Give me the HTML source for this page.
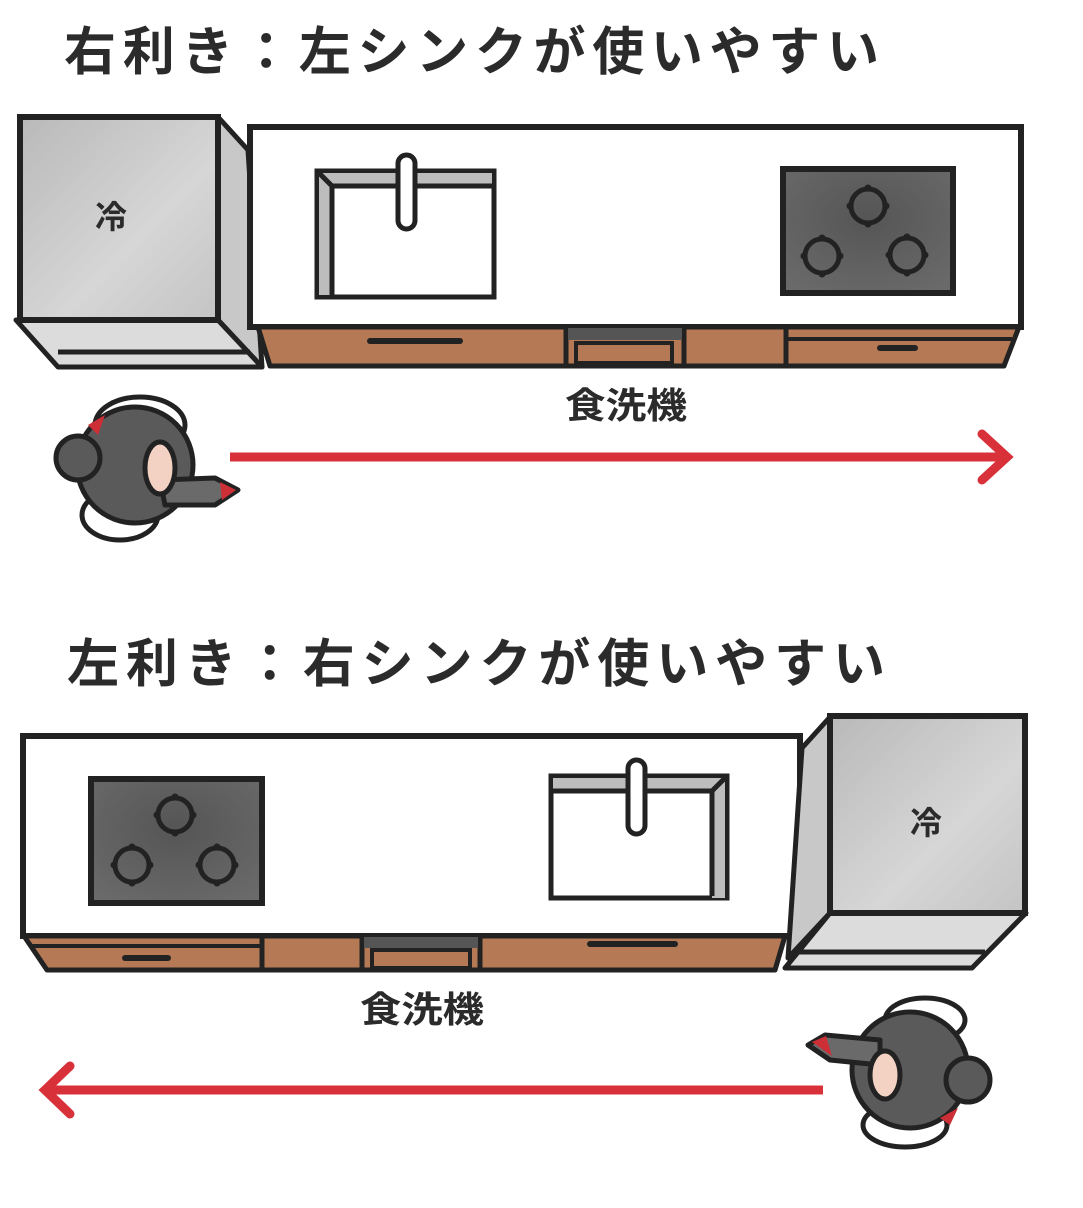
<!DOCTYPE html>
<html><head><meta charset="utf-8"><style>
html,body{margin:0;padding:0;background:#fff;}
svg{display:block;}
text{font-family:"Liberation Sans","Noto Sans CJK JP",sans-serif;fill:#2b2b2b;}
</style></head><body>
<svg width="1083" height="1208" viewBox="0 0 1083 1208" xmlns="http://www.w3.org/2000/svg">
<defs>
<linearGradient id="fr" x1="0" y1="0" x2="1" y2="1"><stop offset="0" stop-color="#b9b9b9"/><stop offset="0.6" stop-color="#d6d6d6"/><stop offset="1" stop-color="#c4c4c4"/></linearGradient>
<radialGradient id="ck" cx="0.5" cy="0.4" r="0.7"><stop offset="0" stop-color="#555"/><stop offset="1" stop-color="#6a6a6a"/></radialGradient>
<g id="burner"><circle r="17" fill="none" stroke="#222" stroke-width="5"/><circle cy="-18" r="3.5" fill="#222"/><circle cy="18" r="3.5" fill="#222"/><circle cx="-18" r="3.5" fill="#222"/><circle cx="18" r="3.5" fill="#222"/></g>
</defs>

<!-- TOP -->
<text x="64" y="70" font-size="52" font-weight="bold" textLength="815" lengthAdjust="spacing">右利き：左シンクが使いやすい</text>

<polygon points="218,117 248,150 262,367 218,320" fill="#c8c8c8" stroke="#222" stroke-width="5" stroke-linejoin="round"/>
<polygon points="16,320 218,320 262,367 58,367" fill="#dcdcdc" stroke="#222" stroke-width="5" stroke-linejoin="round"/>
<line x1="58" y1="352" x2="250" y2="352" stroke="#222" stroke-width="5"/>
<rect x="20" y="117" width="198" height="203" fill="url(#fr)" stroke="#222" stroke-width="6"/>
<text x="95" y="228" font-size="32" font-weight="bold">冷</text>

<rect x="250" y="127" width="771" height="200" fill="#fff" stroke="#222" stroke-width="6"/>
<polygon points="258,327 1019,327 1004,366 270,366" fill="#b57a55" stroke="#222" stroke-width="5" stroke-linejoin="round"/>
<line x1="566" y1="327" x2="566" y2="366" stroke="#222" stroke-width="5"/>
<line x1="684" y1="327" x2="684" y2="366" stroke="#222" stroke-width="5"/>
<line x1="786" y1="327" x2="786" y2="366" stroke="#222" stroke-width="5"/>
<rect x="568" y="328" width="114" height="12" fill="#555"/>
<rect x="576" y="343" width="96" height="20" fill="#b57a55" stroke="#222" stroke-width="4"/>
<line x1="786" y1="339" x2="1012" y2="339" stroke="#222" stroke-width="4"/>
<line x1="370" y1="341" x2="460" y2="341" stroke="#222" stroke-width="6" stroke-linecap="round"/>
<line x1="880" y1="348" x2="915" y2="348" stroke="#222" stroke-width="6" stroke-linecap="round"/>
<rect x="317" y="171" width="177" height="126" fill="#fff" stroke="#222" stroke-width="5"/>
<polygon points="319,173 492,173 492,184 332,184 332,295 319,295" fill="#bdbdbd"/>
<polyline points="319,173 332,186 492,186" fill="none" stroke="#222" stroke-width="5"/>
<line x1="332" y1="186" x2="332" y2="295" stroke="#222" stroke-width="5"/>
<rect x="398" y="155" width="17" height="74" rx="8.5" fill="#fff" stroke="#222" stroke-width="5"/>
<rect x="783" y="169" width="170" height="124" fill="url(#ck)" stroke="#222" stroke-width="6"/>
<use href="#burner" x="868" y="206"/><use href="#burner" x="822" y="256"/><use href="#burner" x="907" y="255"/>

<text x="565" y="418" font-size="36" font-weight="bold" textLength="122" lengthAdjust="spacingAndGlyphs">食洗機</text>
<line x1="230" y1="457" x2="1005" y2="457" stroke="#d8313a" stroke-width="9"/>
<polyline points="982,434 1007,457 982,480" fill="none" stroke="#d8313a" stroke-width="9" stroke-linecap="round"/>

<g stroke="#222" stroke-width="5" stroke-linejoin="round">
<ellipse cx="140" cy="425" rx="45" ry="28" fill="#fff"/>
<ellipse cx="120" cy="515" rx="38" ry="25" fill="#fff"/>
<circle cx="135" cy="465" r="58" fill="#5a5a5a"/>
<circle cx="78" cy="458" r="22" fill="#5a5a5a"/>
<path d="M160,480 L215,478 L238,490 L215,505 L165,505 Z" fill="#6a6a6a"/>
<ellipse cx="160" cy="468" rx="15" ry="26" fill="#f3d2c3"/>
</g>
<polygon points="220,482 236,490 222,500" fill="#cc2f36"/>
<polygon points="88,425 105,415 98,435" fill="#cc2f36"/>

<!-- BOTTOM -->
<text x="67" y="682" font-size="52" font-weight="bold" textLength="818" lengthAdjust="spacing">左利き：右シンクが使いやすい</text>

<rect x="23" y="736" width="777" height="200" fill="#fff" stroke="#222" stroke-width="6"/>
<polygon points="24,936 785,936 775,970 47,970" fill="#b57a55" stroke="#222" stroke-width="5" stroke-linejoin="round"/>
<line x1="262" y1="936" x2="262" y2="970" stroke="#222" stroke-width="5"/>
<line x1="362" y1="936" x2="362" y2="970" stroke="#222" stroke-width="5"/>
<line x1="480" y1="936" x2="480" y2="970" stroke="#222" stroke-width="5"/>
<rect x="364" y="937" width="114" height="11" fill="#555"/>
<rect x="372" y="950" width="98" height="18" fill="#b57a55" stroke="#222" stroke-width="4"/>
<line x1="30" y1="946" x2="262" y2="946" stroke="#222" stroke-width="4"/>
<line x1="125" y1="958" x2="168" y2="958" stroke="#222" stroke-width="6" stroke-linecap="round"/>
<line x1="590" y1="944" x2="675" y2="944" stroke="#222" stroke-width="6" stroke-linecap="round"/>
<rect x="91" y="779" width="171" height="124" fill="url(#ck)" stroke="#222" stroke-width="6"/>
<use href="#burner" x="175" y="815"/><use href="#burner" x="132" y="865"/><use href="#burner" x="217" y="865"/>
<rect x="551" y="776" width="176" height="122" fill="#fff" stroke="#222" stroke-width="5"/>
<polygon points="553,778 725,778 725,898 712,898 712,789 553,789" fill="#bdbdbd"/>
<polyline points="553,791 712,791 725,778" fill="none" stroke="#222" stroke-width="5"/>
<line x1="712" y1="791" x2="712" y2="896" stroke="#222" stroke-width="5"/>
<rect x="628" y="760" width="17" height="74" rx="8.5" fill="#fff" stroke="#222" stroke-width="5"/>

<polygon points="802,748 830,717 830,913 788,958" fill="#c8c8c8" stroke="#222" stroke-width="5" stroke-linejoin="round"/>
<polygon points="830,913 1026,913 972,968 785,968" fill="#dcdcdc" stroke="#222" stroke-width="5" stroke-linejoin="round"/>
<line x1="795" y1="952" x2="985" y2="952" stroke="#222" stroke-width="5"/>
<rect x="830" y="716" width="195" height="197" fill="url(#fr)" stroke="#222" stroke-width="6"/>
<text x="910" y="834" font-size="32" font-weight="bold">冷</text>

<text x="360" y="1022" font-size="36" font-weight="bold" textLength="124" lengthAdjust="spacingAndGlyphs">食洗機</text>
<line x1="48" y1="1090" x2="823" y2="1090" stroke="#d8313a" stroke-width="9"/>
<polyline points="70,1066 45,1090 70,1114" fill="none" stroke="#d8313a" stroke-width="9" stroke-linecap="round"/>

<g stroke="#222" stroke-width="5" stroke-linejoin="round">
<ellipse cx="925" cy="1020" rx="40" ry="22" fill="#fff"/>
<ellipse cx="905" cy="1125" rx="42" ry="22" fill="#fff"/>
<circle cx="910" cy="1070" r="58" fill="#5a5a5a"/>
<circle cx="968" cy="1080" r="22" fill="#5a5a5a"/>
<path d="M880,1040 L825,1035 L808,1045 L830,1060 L880,1065 Z" fill="#6a6a6a"/>
<ellipse cx="885" cy="1075" rx="15" ry="24" fill="#f3d2c3"/>
</g>
<polygon points="812,1042 826,1036 832,1056" fill="#cc2f36"/>
<polygon points="940,1118 958,1108 950,1125" fill="#cc2f36"/>
</svg>
</body></html>
